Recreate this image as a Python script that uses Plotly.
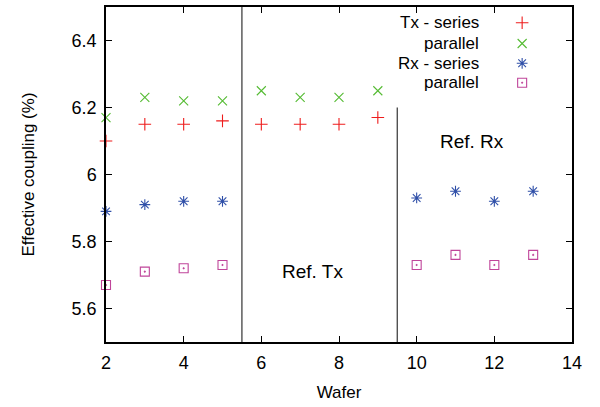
import plotly.graph_objects as go

wafers_tx = [2, 3, 4, 5, 6, 7, 8, 9]
tx_series = [6.10, 6.15, 6.15, 6.16, 6.15, 6.15, 6.15, 6.17]
tx_parallel = [6.17, 6.23, 6.22, 6.22, 6.25, 6.23, 6.23, 6.25]

wafers_rx = [2, 3, 4, 5, 10, 11, 12, 13]
rx_series = [5.89, 5.91, 5.92, 5.92, 5.93, 5.95, 5.92, 5.95]
rx_parallel = [5.67, 5.71, 5.72, 5.73, 5.73, 5.76, 5.73, 5.76]

legend_labels = ["Tx - series", "parallel", "Rx - series", "parallel"]
x_ticks = [2, 4, 6, 8, 10, 12, 14]
y_ticks = [5.6, 5.8, 6.0, 6.2, 6.4]
y_tick_text = ["5.6", "5.8", "6", "6.2", "6.4"]

colors = ["#ee1c1c", "#55bb33", "#2f4fa8", "#c0459a"]
symbols = ["cross-thin-open", "x-thin-open", "asterisk-open", "square-open-dot"]
sizes = [9, 9, 9, 9]

FONT = "Liberation Sans, Arial, sans-serif"

fig = go.Figure()
series = [(wafers_tx, tx_series), (wafers_tx, tx_parallel),
          (wafers_rx, rx_series), (wafers_rx, rx_parallel)]
for i, (xs, ys) in enumerate(series):
    fig.add_trace(go.Scatter(
        x=xs, y=ys, mode="markers", showlegend=False, cliponaxis=False,
        marker=dict(symbol=symbols[i], size=sizes[i], color=colors[i],
                    line=dict(width=1.1, color=colors[i]))))

# legend (manual, gnuplot style: text right-aligned, symbol on right)
leg_y = [0.953, 0.891, 0.832, 0.774]
for i in range(4):
    fig.add_trace(go.Scatter(
        x=[0.893], y=[leg_y[i]], xaxis="x2", yaxis="y2", mode="markers",
        showlegend=False, cliponaxis=False, hoverinfo="skip",
        marker=dict(symbol=symbols[i], size=sizes[i], color=colors[i],
                    line=dict(width=1.1, color=colors[i]))))
    fig.add_annotation(x=0.805, y=leg_y[i], xref="paper", yref="paper",
                       text=legend_labels[i], showarrow=False, xanchor="right",
                       yanchor="middle", font=dict(family=FONT, size=17, color="black"))

# reference separator lines
ref_lines = [(5.5, 5.5, 6.5), (9.5, 5.5, 6.2)]
for xv, y0, y1 in ref_lines:
    fig.add_shape(type="line", x0=xv, x1=xv, y0=y0, y1=y1, xref="x", yref="y",
                  line=dict(color="#333333", width=1.2))

ref_text = [("Ref. Tx", 7.33, 5.71), ("Ref. Rx", 11.43, 6.10)]
for t, xv, yv in ref_text:
    fig.add_annotation(x=xv, y=yv, xref="x", yref="y", text=t, showarrow=False,
                       font=dict(family=FONT, size=19, color="black"))

axis_common = dict(showline=True, linecolor="black", linewidth=1.5, mirror="ticks",
                   ticks="inside", ticklen=6, tickwidth=1.2, tickcolor="black",
                   showgrid=False, zeroline=False,
                   tickfont=dict(family=FONT, size=18, color="black"))

fig.update_layout(
    width=600, height=407,
    margin=dict(l=106, r=28, t=5, b=65),
    paper_bgcolor="white", plot_bgcolor="white",
    xaxis=dict(range=[2, 14], tickvals=x_ticks, ticktext=[str(v) for v in x_ticks],
               ticklabelstandoff=4,
               title=dict(text="Wafer", font=dict(family=FONT, size=17, color="black"),
                          standoff=14),
               **axis_common),
    yaxis=dict(range=[5.5, 6.5], tickvals=y_ticks, ticktext=y_tick_text,
               ticklabelstandoff=4,
               title=dict(text="Effective coupling (%)",
                          font=dict(family=FONT, size=17, color="black"), standoff=33),
               **axis_common),
    xaxis2=dict(range=[0, 1], overlaying="x", visible=False, domain=[0, 1]),
    yaxis2=dict(range=[0, 1], overlaying="y", visible=False),
)

fig.write_html("out.html")
